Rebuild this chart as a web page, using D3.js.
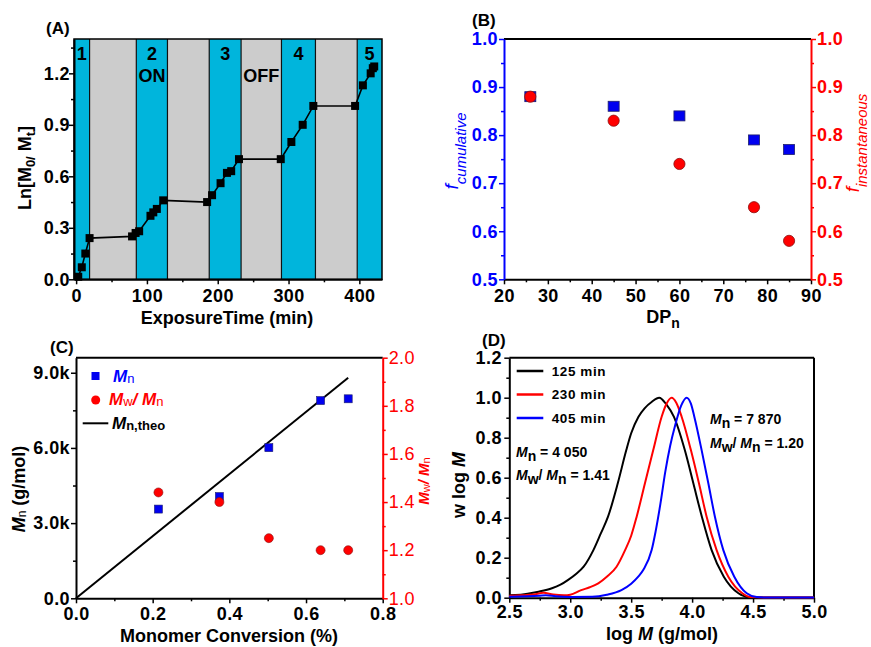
<!DOCTYPE html>
<html><head><meta charset="utf-8">
<script src="https://cdn.jsdelivr.net/npm/d3@7"></script>
<style>
body{margin:0;background:#fff;}
svg{display:block;}
</style></head><body>
<svg id="c" width="871" height="647"></svg>
<script>
// ---------- DATA ----------
// Panel A
const timeA = [3, 8, 13, 19, 79, 84, 89, 105, 109, 114, 123, 185, 192, 204, 213, 219, 230, 289, 304, 320, 335, 394, 405, 416, 419, 421];
const lnA   = [0.015, 0.07, 0.15, 0.24, 0.25, 0.27, 0.28, 0.37, 0.39, 0.41, 0.46, 0.45, 0.49, 0.56, 0.62, 0.63, 0.70, 0.70, 0.80, 0.90, 1.01, 1.01, 1.13, 1.20, 1.23, 1.24];
const bandEdgesA = [-3, 19, 85, 129, 188, 233, 290, 338, 397, 432];
const bandStateA = ["ON", "OFF", "ON", "OFF", "ON", "OFF", "ON", "OFF", "ON"];
const bandNumA = ["1", "", "2", "", "3", "", "4", "", "5"];
const ticksAx = [0, 100, 200, 300, 400];
const ticksAy = [0, 0.3, 0.6, 0.9, 1.2];
// Panel B
const dpB = [26, 45, 60, 77, 85];
const fCumB = [0.88, 0.86, 0.84, 0.79, 0.77];
const fInstB = [0.88, 0.83, 0.74, 0.65, 0.58];
const ticksBx = [20, 30, 40, 50, 60, 70, 80, 90];
const ticksBy = [0.5, 0.6, 0.7, 0.8, 0.9, 1.0];
// Panel C
const convC = [0.215, 0.374, 0.503, 0.638, 0.710];
const mnC = [3560, 4060, 6010, 7890, 7960];
const pdiC = [1.44, 1.40, 1.25, 1.20, 1.20];
const theoConvC = [0, 0.71];
const theoMnC = [0, 8800];
const ticksCx = [0, 0.2, 0.4, 0.6, 0.8];
const ticksCyL = [0, 3000, 6000, 9000];
const ticksCyLLabels = ["0.0", "3.0k", "6.0k", "9.0k"];
const ticksCyR = [1.0, 1.2, 1.4, 1.6, 1.8, 2.0];
// Panel D
const logM125 = [2.50, 2.55, 2.65, 2.74, 2.85, 2.92, 2.98, 3.05, 3.11, 3.19, 3.25, 3.31, 3.39, 3.46, 3.50, 3.56, 3.61, 3.67, 3.73, 3.79, 3.85, 3.94, 4.01, 4.08, 4.16, 4.26, 4.38, 4.46, 4.60, 5.00];
const w125    = [0.012, 0.013, 0.020, 0.030, 0.047, 0.065, 0.088, 0.120, 0.155, 0.238, 0.320, 0.405, 0.572, 0.738, 0.822, 0.905, 0.947, 0.980, 1.000, 0.965, 0.905, 0.738, 0.572, 0.405, 0.238, 0.105, 0.022, 0.003, 0.001, 0.001];
const logM230 = [2.50, 2.60, 2.70, 2.78, 2.86, 2.95, 3.00, 3.09, 3.16, 3.23, 3.30, 3.38, 3.45, 3.50, 3.545, 3.613, 3.681, 3.75, 3.79, 3.832, 3.87, 3.914, 3.99, 4.056, 4.119, 4.201, 4.297, 4.412, 4.48, 4.60, 5.00];
const w230    = [0.010, 0.012, 0.016, 0.025, 0.016, 0.012, 0.015, 0.038, 0.052, 0.072, 0.105, 0.155, 0.238, 0.310, 0.405, 0.572, 0.738, 0.905, 0.970, 1.000, 0.975, 0.905, 0.738, 0.572, 0.405, 0.238, 0.105, 0.022, 0.003, 0.001, 0.001];
const logM405 = [2.50, 2.65, 2.75, 2.80, 2.88, 3.00, 3.18, 3.30, 3.42, 3.50, 3.558, 3.60, 3.668, 3.70, 3.74, 3.78, 3.82, 3.86, 3.91, 3.955, 3.99, 4.018, 4.078, 4.133, 4.187, 4.256, 4.346, 4.448, 4.53, 4.60, 5.00];
const w405    = [0.005, 0.007, 0.010, 0.012, 0.007, 0.004, 0.005, 0.015, 0.038, 0.070, 0.105, 0.140, 0.238, 0.330, 0.470, 0.630, 0.760, 0.860, 0.960, 1.000, 0.970, 0.905, 0.738, 0.572, 0.405, 0.238, 0.105, 0.022, 0.003, 0.001, 0.001];
const seriesD = [
  {label: "125 min", color: "#000000", x: logM125, y: w125},
  {label: "230 min", color: "#ff0000", x: logM230, y: w230},
  {label: "405 min", color: "#0000ff", x: logM405, y: w405}
];
const ticksDx = [2.5, 3.0, 3.5, 4.0, 4.5, 5.0];
const ticksDy = [0, 0.2, 0.4, 0.6, 0.8, 1.0, 1.2];

// ---------- HELPERS ----------
const F = '"Liberation Sans", Arial, Helvetica, sans-serif';
const svg = d3.select("#c");
const BLUE = "#0000ff", RED = "#ff0000", CYAN = "#00b5dc", GRAY = "#cccccc";

function axis(orient, scale, pos, major, minor, fmt, o) {
  o = o || {};
  const color = o.color || "#000";
  const mk = {left: d3.axisLeft, right: d3.axisRight, bottom: d3.axisBottom, top: d3.axisTop}[orient];
  const tr = (orient === "left" || orient === "right") ? `translate(${pos},0)` : `translate(0,${pos})`;
  if (minor && minor.length) {
    const gm = svg.append("g").attr("transform", tr)
      .call(mk(scale).tickValues(minor).tickSize(3).tickFormat("").tickSizeOuter(0));
    gm.select(".domain").remove();
    gm.selectAll("line").attr("stroke", color).attr("stroke-width", 1.5);
  }
  const g = svg.append("g").attr("transform", tr)
    .call(mk(scale).tickValues(major).tickSize(5).tickPadding(o.pad != null ? o.pad : 2).tickFormat(fmt).tickSizeOuter(0));
  g.select(".domain").attr("stroke", color).attr("stroke-width", 2);
  g.selectAll(".tick line").attr("stroke", color).attr("stroke-width", 1.5);
  g.selectAll("text").attr("fill", color).attr("font-size", 18)
    .attr("font-family", F).attr("font-weight", o.weight || "bold")
    .attr("letter-spacing", 0.4);
  return g;
}
function rich(x, y, parts, o) {
  const t = svg.append("text").attr("font-family", F).attr("font-size", o.size)
    .attr("font-weight", o.weight || "bold").attr("fill", o.fill || "#000")
    .attr("text-anchor", o.anchor || "start");
  if (o.rotate) t.attr("transform", `translate(${x},${y}) rotate(${o.rotate})`);
  else t.attr("x", x).attr("y", y);
  if (o.ls) t.attr("letter-spacing", o.ls);
  let cur = 0;
  parts.forEach(p => {
    const s = t.append("tspan").text(p.t);
    const target = p.dy || 0;
    if (target - cur !== 0) s.attr("dy", target - cur);
    cur = target;
    if (p.i) s.attr("font-style", "italic");
    if (p.size) s.attr("font-size", p.size);
    if (p.w) s.attr("font-weight", p.w);
    if (p.fill) s.attr("fill", p.fill);
  });
  return t;
}
function line(x1, y1, x2, y2, c, w) {
  svg.append("line").attr("x1", x1).attr("y1", y1).attr("x2", x2).attr("y2", y2)
    .attr("stroke", c).attr("stroke-width", w);
}

// ---------- PANEL A ----------
const xA = d3.scaleLinear().domain([-3, 432]).range([74, 382]);
const yA = d3.scaleLinear().domain([0, 1.4]).range([279.3, 39]);
const bands = bandStateA.map((s, i) => ({s, n: bandNumA[i], x0: bandEdgesA[i], x1: bandEdgesA[i + 1]}));
svg.append("g").selectAll("rect").data(bands).join("rect")
  .attr("x", d => xA(d.x0)).attr("width", d => xA(d.x1) - xA(d.x0))
  .attr("y", yA(1.4)).attr("height", yA(0) - yA(1.4))
  .attr("fill", d => d.s === "ON" ? CYAN : GRAY);
svg.append("g").selectAll("line").data(bandEdgesA.slice(1, -1)).join("line")
  .attr("x1", d => xA(d)).attr("x2", d => xA(d)).attr("y1", yA(1.4)).attr("y2", yA(0))
  .attr("stroke", "#111").attr("stroke-width", 1.2);
svg.append("rect").attr("x", xA(-3)).attr("y", yA(1.4)).attr("width", xA(432) - xA(-3)).attr("height", yA(0) - yA(1.4))
  .attr("fill", "none").attr("stroke", "#000").attr("stroke-width", 1.5);
axis("left", yA, xA(-3), ticksAy, [0.15, 0.45, 0.75, 1.05, 1.35], d3.format(".1f"), {pad: -1});
axis("bottom", xA, yA(0), ticksAx, [50, 150, 250, 350], d3.format("d"), {pad: 5});
svg.append("g").selectAll("text").data(bands.filter(d => d.n)).join("text")
  .attr("x", d => xA((d.x0 + d.x1) / 2)).attr("y", 60).attr("text-anchor", "middle")
  .attr("font-family", F).attr("font-size", 18).attr("font-weight", "bold").text(d => d.n);
svg.append("text").attr("x", xA((bands[2].x0 + bands[2].x1) / 2)).attr("y", 82).attr("text-anchor", "middle")
  .attr("font-family", F).attr("font-size", 18).attr("font-weight", "bold").text("ON");
svg.append("text").attr("x", xA((bands[5].x0 + bands[5].x1) / 2)).attr("y", 82).attr("text-anchor", "middle")
  .attr("font-family", F).attr("font-size", 18).attr("font-weight", "bold").text("OFF");
const ptsA = timeA.map((t, i) => [t, lnA[i]]);
svg.append("path").datum(ptsA).attr("fill", "none").attr("stroke", "#000").attr("stroke-width", 1.6)
  .attr("d", d3.line().x(d => xA(d[0])).y(d => yA(d[1])));
svg.append("g").selectAll("rect").data(ptsA).join("rect")
  .attr("x", d => xA(d[0]) - 4).attr("y", d => yA(d[1]) - 4).attr("width", 8).attr("height", 8).attr("fill", "#000");
rich(31, 168, [{t: "Ln[M"}, {t: "0/", size: 13, dy: 4}, {t: " M"}, {t: "t", size: 13, dy: 4}, {t: "]"}],
  {size: 18, rotate: -90, anchor: "middle"});
svg.append("text").attr("x", 227).attr("y", 324).attr("text-anchor", "middle").attr("font-family", F)
  .attr("font-size", 18).attr("font-weight", "bold").text("ExposureTime (min)");
svg.append("text").attr("x", 46).attr("y", 34).attr("font-family", F).attr("font-size", 17).attr("font-weight", "bold").text("(A)");

// ---------- PANEL B ----------
const xB = d3.scaleLinear().domain([20, 90]).range([504, 811]);
const yB = d3.scaleLinear().domain([0.5, 1.0]).range([279.3, 39]);
line(xB(20), yB(1.0), xB(90), yB(1.0), "#000", 2);
axis("bottom", xB, yB(0.5), ticksBx, [25, 35, 45, 55, 65, 75, 85], d3.format("d"), {pad: 5});
axis("left", yB, xB(20), ticksBy, [0.55, 0.65, 0.75, 0.85, 0.95], d3.format(".1f"), {color: BLUE, pad: 1});
axis("right", yB, xB(90), ticksBy, [0.55, 0.65, 0.75, 0.85, 0.95], d3.format(".1f"), {color: RED, pad: 1});
svg.append("g").selectAll("rect").data(dpB.map((d, i) => [d, fCumB[i]])).join("rect")
  .attr("x", d => xB(d[0]) - 5.5).attr("y", d => yB(d[1]) - 5).attr("width", 11).attr("height", 10)
  .attr("fill", "#0000f0").attr("stroke", "#20206a").attr("stroke-width", 0.8);
svg.append("g").selectAll("circle").data(dpB.map((d, i) => [d, fInstB[i]])).join("circle")
  .attr("cx", d => xB(d[0])).attr("cy", d => yB(d[1])).attr("r", 5.6)
  .attr("fill", "#ff0000").attr("stroke", "#8a1010").attr("stroke-width", 0.8);
rich(663, 323, [{t: "DP"}, {t: "n", size: 14, dy: 5}], {size: 18, anchor: "middle"});
rich(458, 151, [{t: "f", i: true, size: 19}, {t: "cumulative", i: true, size: 15, dy: 8, w: "normal"}],
  {size: 19, fill: BLUE, rotate: -90, anchor: "middle", weight: "normal"});
rich(859, 143, [{t: "f", i: true, size: 19}, {t: "instantaneous", i: true, size: 15, dy: 8, w: "normal"}],
  {size: 19, fill: RED, rotate: -90, anchor: "middle", weight: "normal"});
svg.append("text").attr("x", 472).attr("y", 26).attr("font-family", F).attr("font-size", 17).attr("font-weight", "bold").text("(B)");

// ---------- PANEL C ----------
const xC = d3.scaleLinear().domain([0, 0.8]).range([76, 382.7]);
const yCL = d3.scaleLinear().domain([0, 9600]).range([598.3, 357.7]);
const yCR = d3.scaleLinear().domain([1.0, 2.0]).range([598.3, 357.7]);
line(xC(0), yCL(9600), xC(0.8), yCL(9600), "#000", 2);
axis("bottom", xC, yCL(0), ticksCx, [0.1, 0.3, 0.5, 0.7], d3.format(".1f"), {pad: 4});
axis("left", yCL, xC(0), ticksCyL, [1500, 4500, 7500], (d, i) => ticksCyLLabels[i], {pad: 1});
axis("right", yCR, xC(0.8), ticksCyR, [1.1, 1.3, 1.5, 1.7, 1.9], d3.format(".1f"), {color: RED, pad: 1, weight: "normal"});
svg.append("path").datum(theoConvC.map((c, i) => [c, theoMnC[i]])).attr("fill", "none").attr("stroke", "#000").attr("stroke-width", 2)
  .attr("d", d3.line().x(d => xC(d[0])).y(d => yCL(d[1])));
svg.append("g").selectAll("rect").data(convC.map((c, i) => [c, mnC[i]])).join("rect")
  .attr("x", d => xC(d[0]) - 4).attr("y", d => yCL(d[1]) - 4).attr("width", 8).attr("height", 8)
  .attr("fill", "#0000f0").attr("stroke", "#20206a").attr("stroke-width", 0.6);
svg.append("g").selectAll("circle").data(convC.map((c, i) => [c, pdiC[i]])).join("circle")
  .attr("cx", d => xC(d[0])).attr("cy", d => yCR(d[1])).attr("r", 4.5)
  .attr("fill", "#ff0000").attr("stroke", "#8a1010").attr("stroke-width", 0.6);
// legend
svg.append("rect").attr("x", 91.5).attr("y", 372).attr("width", 8).attr("height", 8).attr("fill", "#0000f0");
rich(113, 382, [{t: "M", i: true}, {t: "n", size: 13, w: "normal", dy: 1}], {size: 17, fill: BLUE});
svg.append("circle").attr("cx", 95.7).attr("cy", 400).attr("r", 4.5).attr("fill", "#ff0000");
rich(109, 405, [{t: "M", i: true}, {t: "w", size: 13, w: "normal", dy: 1}, {t: "/ ", i: true, dy: 0}, {t: "M", i: true}, {t: "n", size: 13, w: "normal", dy: 1}], {size: 17, fill: RED});
line(82.7, 423.3, 108.3, 423.3, "#000", 2);
rich(112, 429, [{t: "M", i: true}, {t: "n,theo", size: 13, dy: 1}], {size: 17, fill: "#000"});
rich(25, 489, [{t: "M", i: true}, {t: "n", size: 12, w: "normal", dy: 1}, {t: " (g/mol)", dy: 0}], {size: 18, rotate: -90, anchor: "middle"});
rich(429, 481, [{t: "M", i: true}, {t: "w", size: 11, w: "normal", dy: 1}, {t: "/ ", i: true, dy: 0}, {t: "M", i: true}, {t: "n", size: 11, w: "normal", dy: 1}],
  {size: 15, fill: RED, rotate: -90, anchor: "middle"});
svg.append("text").attr("x", 229).attr("y", 642).attr("text-anchor", "middle").attr("font-family", F)
  .attr("font-size", 18).attr("font-weight", "bold").text("Monomer Conversion (%)");
svg.append("text").attr("x", 50).attr("y", 353).attr("font-family", F).attr("font-size", 17).attr("font-weight", "bold").text("(C)");

// ---------- PANEL D ----------
const xD = d3.scaleLinear().domain([2.5, 5.0]).range([509.3, 814]);
const yD = d3.scaleLinear().domain([0, 1.2]).range([597.7, 357.7]);
line(xD(2.5), yD(1.2), xD(5.0), yD(1.2), "#000", 2);
line(xD(5.0), yD(1.2), xD(5.0), yD(0), "#000", 2);
axis("bottom", xD, yD(0), ticksDx, [2.75, 3.25, 3.75, 4.25, 4.75], d3.format(".1f"), {pad: 3});
axis("left", yD, xD(2.5), ticksDy, [0.1, 0.3, 0.5, 0.7, 0.9, 1.1], d3.format(".1f"), {pad: 2.5});
const lineD = d3.line().x(d => xD(d[0])).y(d => yD(d[1])).curve(d3.curveMonotoneX);
svg.append("g").selectAll("path").data(seriesD).join("path")
  .attr("fill", "none").attr("stroke", d => d.color).attr("stroke-width", 2)
  .attr("d", d => lineD(d.x.map((v, i) => [v, d.y[i]])));
const legD = svg.append("g").selectAll("g").data(seriesD).join("g")
  .attr("transform", (d, i) => `translate(0,${371 + i * 23.5})`);
legD.append("line").attr("x1", 516.7).attr("x2", 543.3).attr("stroke", d => d.color).attr("stroke-width", 2.5);
legD.append("text").attr("x", 551.7).attr("y", 4.5).attr("font-family", F).attr("font-size", 13.5)
  .attr("font-weight", "bold").attr("letter-spacing", 0.6).text(d => d.label);
rich(516, 457, [{t: "M", i: true}, {t: "n", dy: 4, size: 14}, {t: " = 4 050", dy: 0}], {size: 14});
rich(516, 480, [{t: "M", i: true}, {t: "w", dy: 4, size: 14}, {t: "/ ", dy: 0}, {t: "M", i: true}, {t: "n", dy: 4, size: 14}, {t: " = 1.41", dy: 0}], {size: 14});
rich(710, 424, [{t: "M", i: true}, {t: "n", dy: 4, size: 14}, {t: " = 7 870", dy: 0}], {size: 14});
rich(710, 448, [{t: "M", i: true}, {t: "w", dy: 4, size: 14}, {t: "/ ", dy: 0}, {t: "M", i: true}, {t: "n", dy: 4, size: 14}, {t: " = 1.20", dy: 0}], {size: 14});
rich(465, 485, [{t: "w log "}, {t: "M", i: true}], {size: 18, rotate: -90, anchor: "middle"});
rich(662, 640, [{t: "log "}, {t: "M", i: true}, {t: " (g/mol)"}], {size: 18, anchor: "middle"});
svg.append("text").attr("x", 482).attr("y", 346).attr("font-family", F).attr("font-size", 17).attr("font-weight", "bold").text("(D)");
</script>
</body></html>
